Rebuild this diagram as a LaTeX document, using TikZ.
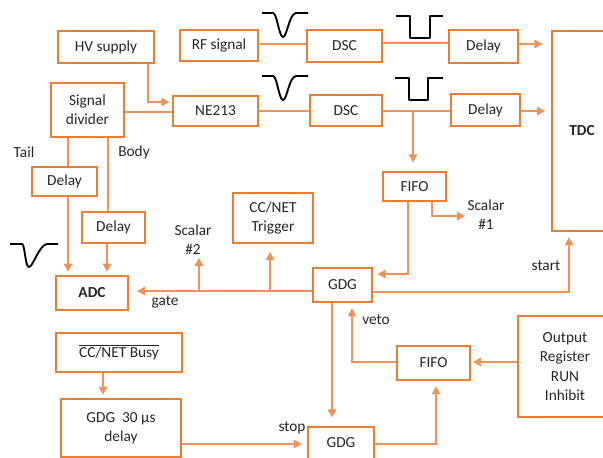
\documentclass[tikz,border=0pt]{standalone}
\usepackage{fontspec}
\setmainfont{Carlito}
\usetikzlibrary{arrows.meta}
\definecolor{boxor}{HTML}{ED7D31}
\definecolor{lnor}{HTML}{F0925A}
\tikzset{
  every node/.style={font=\fontsize{11.5}{14.5}\selectfont, text=black!85},
  box/.style 2 args={draw=boxor, line width=1.5pt, inner sep=0pt, align=center,
     minimum width=#1*0.75pt, minimum height=#2*0.75pt},
  lbl/.style={inner sep=0pt, align=center},
  ln/.style={draw=lnor, line width=0.8pt},
  arr/.style={ln, -{Triangle[length=6pt,width=6.5pt]}, color=lnor},
  wave/.style={draw=black, line width=1.4pt, line join=round},
}
\begin{document}
\begin{tikzpicture}[x=0.75pt, y=-0.75pt]
\useasboundingbox (0,0) rectangle (603,457);
\clip (0,0) rectangle (603,457);
% boxes
\node[box={96}{32}] (hv) at (106,47) {HV supply};
\node[box={78}{31}] (rf) at (219,45.5) {RF signal};
\node[box={73}{54}] (sd) at (87.5,110) {Signal\\divider};
\node[box={85}{30}] (ne) at (215.5,111) {NE213};
\node[box={75}{32}] (dsc1) at (344.5,46) {DSC};
\node[box={69}{33}] (dl1) at (483.5,46.5) {Delay};
\node[box={72}{31}] (dsc2) at (346,110.5) {DSC};
\node[box={69}{32}] (dl2) at (485.5,110) {Delay};
\node[box={60}{200}] (tdc) at (582,131) {\textbf{TDC}};
\node[box={65}{29}] (dt) at (64.5,181.5) {Delay};
\node[box={63}{31}] (db) at (113.5,227.5) {Delay};
\node[box={72}{34}] (adc) at (92,293) {\textbf{ADC}};
\node[box={80}{50}] (cct) at (273,218) {CC/NET\\Trigger};
\node[box={63}{29}] (fifo1) at (414.5,186.5) {FIFO};
\node[box={59}{34}] (gdg1) at (342.5,285) {GDG};
\node[box={126}{39}] (busy) at (119,352.5) {$\overline{\mbox{CC/NET Busy}}$};
\node[box={120}{58}] (gdg30) at (121,428) {GDG\ \ 30 µs\\delay};
\node[box={66}{32}] (gdg2) at (341,443) {GDG};
\node[box={73}{34}] (fifo2) at (433.5,363) {FIFO};
\node[box={94}{101}] (out) at (565,366.5) {Output\\Register\\RUN\\Inhibit};
% labels
\node[lbl] (tail) at (24,152) {Tail};
\node[lbl] (body) at (134,152) {Body};
\node[lbl] (s2) at (193,240) {Scalar\\\#2};
\node[lbl] (gate) at (165,302) {gate};
\node[lbl] (s1) at (486,215) {Scalar\\\#1};
\node[lbl] (start) at (546,266) {start};
\node[lbl] (veto) at (376,320) {veto};
\node[lbl] (stop) at (292,428) {stop};
% junction coordinates
\coordinate (j1) at (413,111);
\coordinate (b2) at (199,291);
\coordinate (b3) at (270,291);
% connectors
\draw[arr, shorten >=2pt] (hv.south -| 148,0) |- (ne.west |- 0,102);
\draw[ln] (sd.east |- 0,112) -- (ne.west |- 0,112);
\draw[ln] (rf.east |- 0,44) -- (dsc1.west |- 0,44);
\draw[ln] (ne.east |- 0,111) -- (dsc2.west |- 0,111);
\draw[ln] (dsc1.east |- 0,43) -- (dl1.west |- 0,43);
\draw[ln] (dsc2.east |- 0,111) -- (dl2.west |- 0,111);
\draw[arr, shorten >=6.5pt] (dl1.east |- 0,44) -- (tdc.west |- 0,44);
\draw[arr, shorten >=4.5pt] (dl2.east |- 0,111) -- (tdc.west |- 0,111);
\draw[arr, shorten >=6.5pt] (j1) -- (j1 |- fifo1.north);
\draw[arr] (fifo1.south -| 432,0) |- (465,216);
\draw[arr, shorten >=3.5pt] (fifo1.south -| 408,0) |- (gdg1.east |- 0,274);
\draw[arr, shorten >=4pt] (gdg1.east |- 0,292) -| (tdc.south -| 569,0);
\draw[arr, shorten >=6pt] (gdg1.west |- 0,291) -- (adc.east |- 0,291);
\draw[arr, shorten >=2pt] (b2) -- (b2 |- s2.south);
\draw[arr, shorten >=6pt] (b3) -- (b3 |- cct.south);
\draw[ln] (sd.south -| 68,0) -- (dt.north -| 68,0);
\draw[ln] (sd.south -| 108,0) -- (db.north -| 108,0);
\draw[arr, shorten >=2.5pt] (dt.south -| 68,0) -- (adc.north -| 68,0);
\draw[arr, shorten >=2.5pt] (db.south -| 107,0) -- (adc.north -| 107,0);
\draw[arr, shorten >=2.5pt] (busy.south -| 103,0) -- (gdg30.north -| 103,0);
\draw[arr, shorten >=4pt] (gdg30.east |- 0,444) -- (gdg2.west |- 0,444);
\draw[arr, shorten >=6.5pt] (gdg1.south -| 332,0) -- (gdg2.north -| 332,0);
\draw[arr, shorten >=4pt] (gdg2.east |- 0,444) -| (fifo2.south -| 436,0);
\draw[arr, shorten >=4pt] (fifo2.west |- 0,362) -| (gdg1.south -| 352,0);
\draw[arr, shorten >=1.5pt] (out.west |- 0,362) -- (fifo2.east |- 0,362);
% waveforms
\draw[wave] (262,13) -- (273,13) .. controls (277,13) and (279,37) .. (283,37) .. controls (287,37) and (289,14) .. (296,13) -- (308,13);
\draw[wave] (262,76) -- (273,76) .. controls (277,76) and (279,100) .. (283,100) .. controls (287,100) and (289,77) .. (296,76) -- (308,76);
\draw[wave] (396,16) -- (410,16) -- (410,38) -- (430,38) -- (430,16) -- (443,16);
\draw[wave] (395,78) -- (409,78) -- (409,100) -- (428,100) -- (428,78) -- (443,78);
\draw[wave] (10,244) -- (22,244) .. controls (25,244) and (25,267) .. (29,267) .. controls (33,267) and (39,245) .. (47,244) -- (58,244);
\end{tikzpicture}
\end{document}
